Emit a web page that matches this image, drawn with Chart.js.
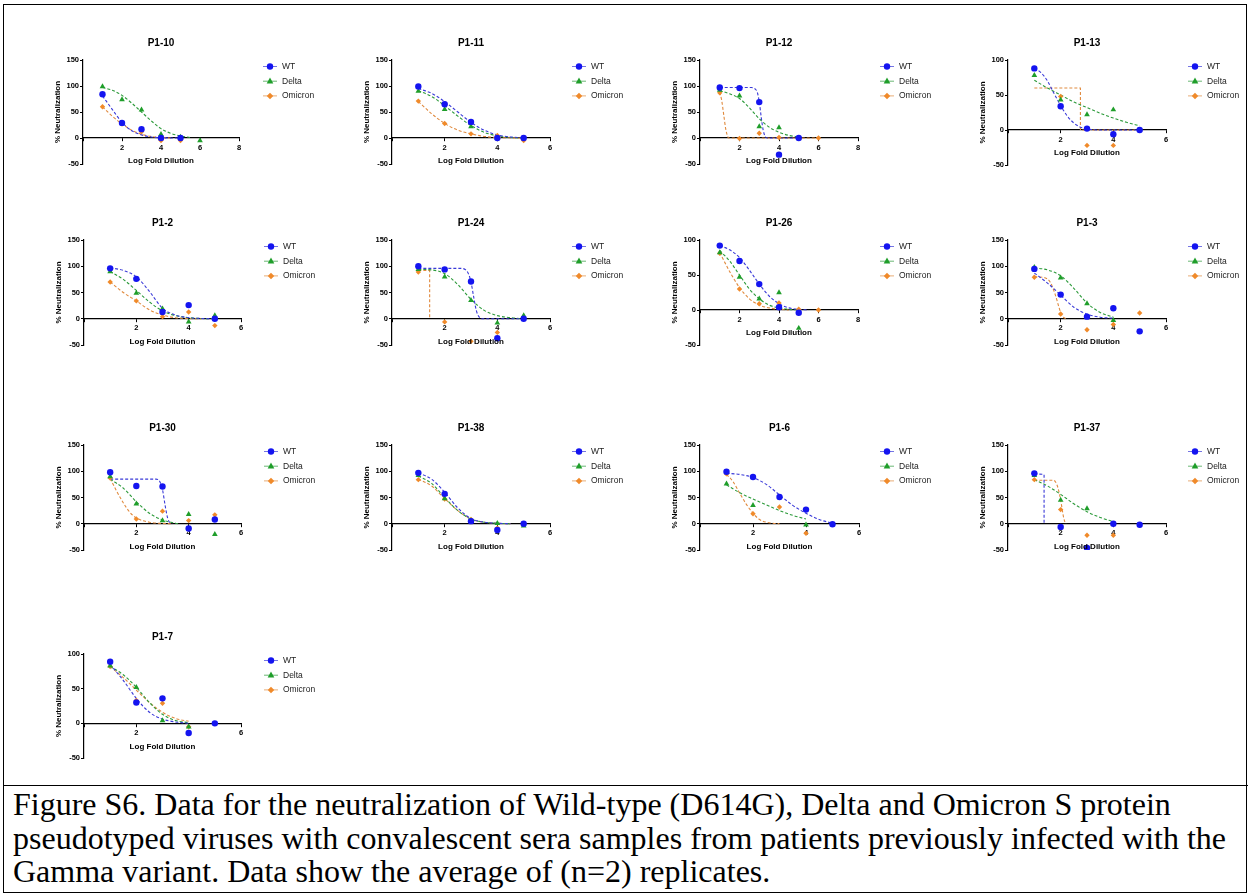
<!DOCTYPE html>
<html>
<head>
<meta charset="utf-8">
<script src="https://cdn.jsdelivr.net/npm/chart.js@4.4.1/dist/chart.umd.min.js"></script>
<style>
  html, body { margin: 0; padding: 0; background: #fff; }
  #page { position: relative; width: 1250px; height: 895px; overflow: hidden; }
  #frame { position: absolute; left: 3px; top: 4px; width: 1242px; height: 887px; border: 1.5px solid #000; }
  #rule { position: absolute; left: 3px; top: 785px; width: 1245px; height: 0; border-top: 1.5px solid #000; }
  .panel { position: absolute; }
  #caption { position: absolute; left: 13px; top: 788px; font-family: "Liberation Serif", "Times New Roman", serif;
             font-size: 32px; line-height: 33.5px; color: #000; white-space: nowrap; }
</style>
</head>
<body>
<div id="page">
  <div id="frame"></div>
  <div id="rule"></div>
  <div id="caption">Figure S6. Data for the neutralization of Wild-type (D614G), Delta and Omicron S protein<br>pseudotyped viruses with convalescent sera samples from patients previously infected with the<br>Gamma variant. Data show the average of (n=2) replicates.</div>
</div>
<script>
const panelNames = ['P1-10', 'P1-11', 'P1-12', 'P1-13', 'P1-2', 'P1-24', 'P1-26', 'P1-3', 'P1-30', 'P1-38', 'P1-6', 'P1-37', 'P1-7'];
const seriesNames = ['WT', 'Delta', 'Omicron'];
const logDilution = [1, 2, 3, 4, 5, 6];
const xAxisMax = [8, 6, 8, 6, 6, 6, 8, 6, 6, 6, 6, 6, 6];
const yAxisMax = [150, 150, 150, 100, 150, 150, 100, 150, 150, 150, 150, 150, 100];
const yAxisMin = -50;
const xAxisTitle = 'Log Fold Dilution';
const yAxisTitle = '% Neutralization';

// % neutralization per panel at log dilution 1..6 (null = no point)
const wtValues = [
  [84, 29, 17, 0, 0, null],
  [99, 65, 31, 0, 0, null],
  [97, 96, 69, -32, 0, null],
  [88, 34, 2, -6, 0, null],
  [96, 76, 13, 26, 0, null],
  [100, 94, 71, -37, 0, null],
  [92, 70, 37, 4, -4, null],
  [95, 46, 4, 20, -24, null],
  [98, 72, 71, -9, 8, null],
  [97, 57, 5, -12, 0, null],
  [99, 89, 51, 27, -1, null],
  [96, -6, -46, 0, -2, null],
  [89, 30, 36, -14, 0, null]
];
const deltaValues = [
  [99, 74, 54, 7, 2, -5],
  [90, 55, 22, 0, null, null],
  [92, 81, 22, 20, null, null],
  [78, 43, 22, 29, null, null],
  [90, 49, 19, -6, 6, null],
  [94, 80, 35, -8, 6, null],
  [82, 47, 16, 25, -26, null],
  [98, 78, 29, -3, null, null],
  [90, 38, 6, 18, -20, null],
  [92, 48, 6, 1, -4, null],
  [76, 35, null, -2, null, null],
  [92, 45, 29, null, null, null],
  [83, 52, 4, -5, null, null]
];
const omicronValues = [
  [60, 27, 12, -5, -5, null],
  [71, 28, 8, 5, -5, null],
  [87, -1, 9, 1, null, 0],
  [null, 48, -22, -22, null, null],
  [70, 34, 4, 13, -13, null],
  [89, -6, -43, -26, null, null],
  [81, 30, 9, 10, 1, 0],
  [79, 9, -21, -11, 11, null],
  [87, 9, 24, 6, 17, null],
  [84, 47, 8, -8, null, null],
  [95, 19, 32, -18, null, null],
  [84, 27, -22, -22, null, null],
  [82, 33, 29, -5, null, null]
];

// fitted curves as [x, y] pairs
const wtFits = [
  [[1, 81], [1.5, 55], [2, 30], [2.5, 14], [3, 6], [3.5, 2], [4, 0.5], [5, 0]],
  [[1, 95], [1.5, 86], [2, 70], [2.5, 50], [3, 30], [3.5, 15], [4, 6], [4.5, 2], [5, 0.5]],
  [[1, 97], [2.6, 97], [2.8, 94], [2.9, 88], [3, 70], [3.1, 40], [3.2, 15], [3.3, 3], [3.4, 0], [5, 0]],
  [[1, 88], [1.25, 82], [1.5, 70], [1.75, 52], [2, 35], [2.25, 20], [2.5, 10], [2.75, 4], [3, 1.5], [3.5, 0], [5, 0]],
  [[1, 97], [1.5, 92], [2, 80], [2.5, 52], [3, 20], [3.5, 7], [4, 2], [4.5, 0.5], [5, 0]],
  [[1, 96], [2.6, 96], [2.8, 93], [2.9, 86], [3, 70], [3.1, 42], [3.2, 16], [3.3, 4], [3.4, 0], [5, 0]],
  [[1, 92], [1.5, 86], [2, 75], [2.5, 57], [3, 37], [3.5, 20], [4, 9], [4.5, 3], [5, 1], [5.5, 0]],
  [[1, 87], [1.5, 68], [2, 45], [2.5, 22], [3, 9], [3.5, 3], [4, 1]],
  [[1, 85], [2.75, 85], [2.9, 80], [3, 65], [3.1, 35], [3.2, 10], [3.3, 1], [3.35, 0]],
  [[1, 97], [1.5, 85], [2, 60], [2.5, 30], [3, 10], [3.5, 3], [4, 1], [4.5, 0]],
  [[1, 96], [1.5, 94], [2, 88], [2.5, 75], [3, 55], [3.5, 35], [4, 20], [4.5, 8], [5, 1]],
  [[1, 95], [1.37, 94], [1.37, 0]],
  [[1, 85], [1.5, 62], [2, 36], [2.5, 16], [3, 6], [3.5, 2], [4, 0]]
];
const deltaFits = [
  [[1, 97], [1.5, 92], [2, 82], [2.5, 67], [3, 50], [3.5, 33], [4, 18], [4.5, 9], [5, 4], [5.5, 1]],
  [[1, 91], [1.5, 80], [2, 62], [2.5, 42], [3, 24], [3.5, 11], [4, 4], [4.5, 1], [5, 0]],
  [[1, 91], [1.5, 85], [2, 76], [2.5, 58], [3, 37], [3.5, 21], [4, 11], [4.5, 5], [5, 2]],
  [[1, 71], [1.5, 60], [2, 50], [2.5, 40], [3, 32], [3.5, 24], [4, 17], [4.5, 11], [5, 6]],
  [[1, 90], [1.5, 75], [2, 54], [2.5, 32], [3, 15], [3.5, 6], [4, 2], [4.5, 0.5], [5, 0]],
  [[1, 94], [1.5, 93], [2, 86], [2.5, 65], [3, 37], [3.5, 16], [4, 6], [4.5, 2], [5, 0]],
  [[1, 85], [1.5, 70], [2, 50], [2.5, 30], [3, 16], [3.5, 7], [4, 3], [4.5, 1], [5, 0]],
  [[1, 97], [1.5, 93], [2, 82], [2.5, 58], [3, 30], [3.5, 12], [4, 3]],
  [[1, 85], [1.5, 68], [2, 42], [2.5, 20], [3, 7], [3.5, 1], [3.6, 0]],
  [[1, 91], [1.5, 77], [2, 50], [2.5, 25], [3, 9], [3.5, 3], [4, 1], [4.5, 0]],
  [[1, 74], [1.5, 59], [2, 47], [2.5, 36], [3, 25], [3.5, 16], [4, 9]],
  [[1, 84], [1.5, 72], [2, 56], [2.5, 38], [3, 23], [3.5, 12], [4, 4]],
  [[1, 82], [1.5, 70], [2, 52], [2.5, 30], [3, 13], [3.5, 4], [4, 1]]
];
const omicronFits = [
  [[1, 60], [1.5, 42], [2, 27], [2.5, 15], [3, 7], [3.5, 3], [4, 1], [4.5, 0]],
  [[1, 70], [1.5, 47], [2, 28], [2.5, 15], [3, 8], [3.5, 3], [4, 1], [4.5, 0.3], [5, 0]],
  [[1, 88], [1.1, 72], [1.2, 45], [1.3, 18], [1.4, 3], [1.45, 0], [6, 0]],
  [[1, 60], [2.75, 60], [2.75, 0], [5, 0]],
  [[1, 70], [1.5, 50], [2, 34], [2.5, 17], [3, 7], [3.5, 2], [4, 0.5], [4.5, 0]],
  [[1, 92], [1.43, 92], [1.43, 0]],
  [[1, 82], [1.5, 55], [2, 32], [2.5, 16], [3, 7], [3.5, 3], [4, 1], [4.5, 0]],
  [[1, 80], [1.4, 78], [1.6, 70], [1.8, 45], [1.9, 28], [2, 12], [2.1, 3], [2.2, 0]],
  [[1, 86], [1.25, 62], [1.5, 40], [1.75, 22], [2, 11], [2.5, 3], [3, 0.5], [3.4, 0]],
  [[1, 85], [1.5, 72], [2, 48], [2.5, 25], [3, 9], [3.5, 3], [4, 1], [4.5, 0]],
  [[1, 94], [1.25, 80], [1.5, 58], [1.75, 37], [2, 20], [2.25, 8], [2.5, 3], [2.75, 1], [3, 0]],
  [[1, 83], [1.7, 83], [1.8, 80], [1.9, 68], [2, 45], [2.05, 30], [2.1, 15], [2.15, 5], [2.2, 0]],
  [[1, 82], [1.5, 66], [2, 48], [2.5, 30], [3, 16], [3.5, 7], [4, 3]]
];

// plot area of each panel on the page: left, top, width, height
const panelBoxes = [
  [83, 59.5, 156, 104], [392, 60, 158, 104], [700, 59.5, 158, 104], [1008, 59.5, 158, 105],
  [84, 240, 157, 105], [392, 240, 158, 105], [700, 240, 158, 105], [1008, 240, 158, 105],
  [84, 445, 157, 105], [392, 445, 158, 105], [700, 445, 159, 105], [1008, 445, 158, 105],
  [84, 654, 157, 104]
];

const markerColors = ['#1414f0', '#1f9e2a', '#f08a2a'];
const fitColors = ['#3a3ad8', '#2c9a3a', '#e08a3e'];
const markerStyles = ['circle', 'triangle', 'rectRot'];
const markerRadius = [3.2, 3.3, 2.7];
const FONT = '"Liberation Sans", Arial, sans-serif';

const CW = 300, CH = 180, LEFT = 45, TOP = 30, YW = 30;

function drawMarker(ctx, style, x, y, r, color) {
  ctx.fillStyle = color;
  ctx.beginPath();
  if (style === 'circle') {
    ctx.arc(x, y, r, 0, Math.PI * 2);
  } else if (style === 'triangle') {
    ctx.moveTo(x, y - r * 1.1);
    ctx.lineTo(x + r, y + r * 0.7);
    ctx.lineTo(x - r, y + r * 0.7);
    ctx.closePath();
  } else {
    ctx.moveTo(x, y - r * 1.2);
    ctx.lineTo(x + r * 1.2, y);
    ctx.lineTo(x, y + r * 1.2);
    ctx.lineTo(x - r * 1.2, y);
    ctx.closePath();
  }
  ctx.fill();
}

// legend to the right of the plot, Prism style
const sideLegend = {
  id: 'sideLegend',
  afterDraw(chart) {
    const {ctx, chartArea} = chart;
    const x = chartArea.left + 187;
    ctx.save();
    seriesNames.forEach((name, i) => {
      const y = chartArea.top + 6.5 + 14.7 * i;
      ctx.strokeStyle = fitColors[i];
      ctx.globalAlpha = 0.7;
      ctx.lineWidth = 1;
      ctx.beginPath();
      ctx.moveTo(x - 7, y);
      ctx.lineTo(x + 7, y);
      ctx.stroke();
      ctx.globalAlpha = 1;
      drawMarker(ctx, markerStyles[i], x, y, markerRadius[i], markerColors[i]);
      ctx.fillStyle = '#222';
      ctx.font = '8.5px ' + FONT;
      ctx.textBaseline = 'middle';
      ctx.fillText(name, x + 12, y);
    });
    ctx.restore();
  }
};

// x title hangs under the axis that crosses at y = 0
const zeroAxisTitle = {
  id: 'zeroAxisTitle',
  afterDraw(chart) {
    const {ctx, chartArea, scales} = chart;
    const y = scales.y.getPixelForValue(0) + 23;
    ctx.save();
    ctx.fillStyle = '#000';
    ctx.font = 'bold 8px ' + FONT;
    ctx.textAlign = 'center';
    ctx.textBaseline = 'middle';
    ctx.fillText(xAxisTitle, (chartArea.left + chartArea.right) / 2, y);
    ctx.restore();
  }
};

const page = document.getElementById('page');

panelNames.forEach((name, p) => {
  const [bx, by, bw, bh] = panelBoxes[p];
  const canvas = document.createElement('canvas');
  canvas.className = 'panel';
  canvas.width = CW;
  canvas.height = CH;
  canvas.style.left = (bx - LEFT) + 'px';
  canvas.style.top = (by - TOP) + 'px';
  canvas.style.width = CW + 'px';
  canvas.style.height = CH + 'px';
  page.appendChild(canvas);

  const pointSets = [wtValues[p], deltaValues[p], omicronValues[p]];
  const fitSets = [wtFits[p], deltaFits[p], omicronFits[p]];
  const datasets = [];

  fitSets.forEach((fit, i) => {
    const stepped = fit.some((pt, k) => k > 0 && pt[0] === fit[k - 1][0]);
    datasets.push({
      label: seriesNames[i] + ' fit',
      data: fit.map(([x, y]) => ({x, y})),
      showLine: true,
      borderColor: fitColors[i],
      borderWidth: 1.1,
      borderDash: [3, 2],
      pointRadius: 0,
      cubicInterpolationMode: stepped ? 'default' : 'monotone',
      tension: 0,
      order: 2
    });
  });

  pointSets.forEach((vals, i) => {
    datasets.push({
      label: seriesNames[i],
      data: logDilution.map((x, k) => ({x, y: vals[k]})).filter(d => d.y !== null),
      showLine: false,
      pointStyle: markerStyles[i],
      pointRadius: markerRadius[i],
      backgroundColor: markerColors[i],
      borderColor: markerColors[i],
      borderWidth: 0,
      order: 1
    });
  });

  new Chart(canvas, {
    type: 'scatter',
    data: { datasets },
    plugins: [sideLegend, zeroAxisTitle],
    options: {
      responsive: false,
      animation: false,
      devicePixelRatio: 1,
      events: [],
      layout: {
        padding: { left: LEFT - YW, right: CW - LEFT - bw, top: 0, bottom: CH - TOP - bh }
      },
      plugins: {
        legend: { display: false },
        tooltip: { enabled: false },
        title: {
          display: true,
          text: name,
          fullSize: false,
          color: '#000',
          font: { family: FONT, size: 10, weight: 'bold' },
          padding: { top: 7.5, bottom: 10.5 }
        }
      },
      scales: {
        x: {
          type: 'linear',
          position: { y: 0 },
          min: 0,
          max: xAxisMax[p],
          border: { display: true, color: '#000', width: 1.2 },
          grid: { display: true, drawOnChartArea: false, drawTicks: true, tickLength: 3, color: '#000' },
          ticks: {
            stepSize: 2,
            color: '#000',
            padding: 2,
            font: { family: FONT, size: 7.5, weight: 'bold' },
            callback: v => (v === 0 ? '' : v)
          },
          title: { display: false }
        },
        y: {
          type: 'linear',
          position: 'left',
          min: yAxisMin,
          max: yAxisMax[p],
          afterFit: s => { s.width = YW; },
          border: { display: true, color: '#000', width: 1.2 },
          grid: { display: true, drawOnChartArea: false, drawTicks: true, tickLength: 3, color: '#000' },
          ticks: {
            stepSize: 50,
            color: '#000',
            padding: 1,
            font: { family: FONT, size: 7.5, weight: 'bold' }
          },
          title: {
            display: true,
            text: yAxisTitle,
            color: '#000',
            font: { family: FONT, size: 8, weight: 'bold' },
            padding: { top: 0, bottom: 0 }
          }
        }
      }
    }
  });
});
</script>
</body>
</html>
